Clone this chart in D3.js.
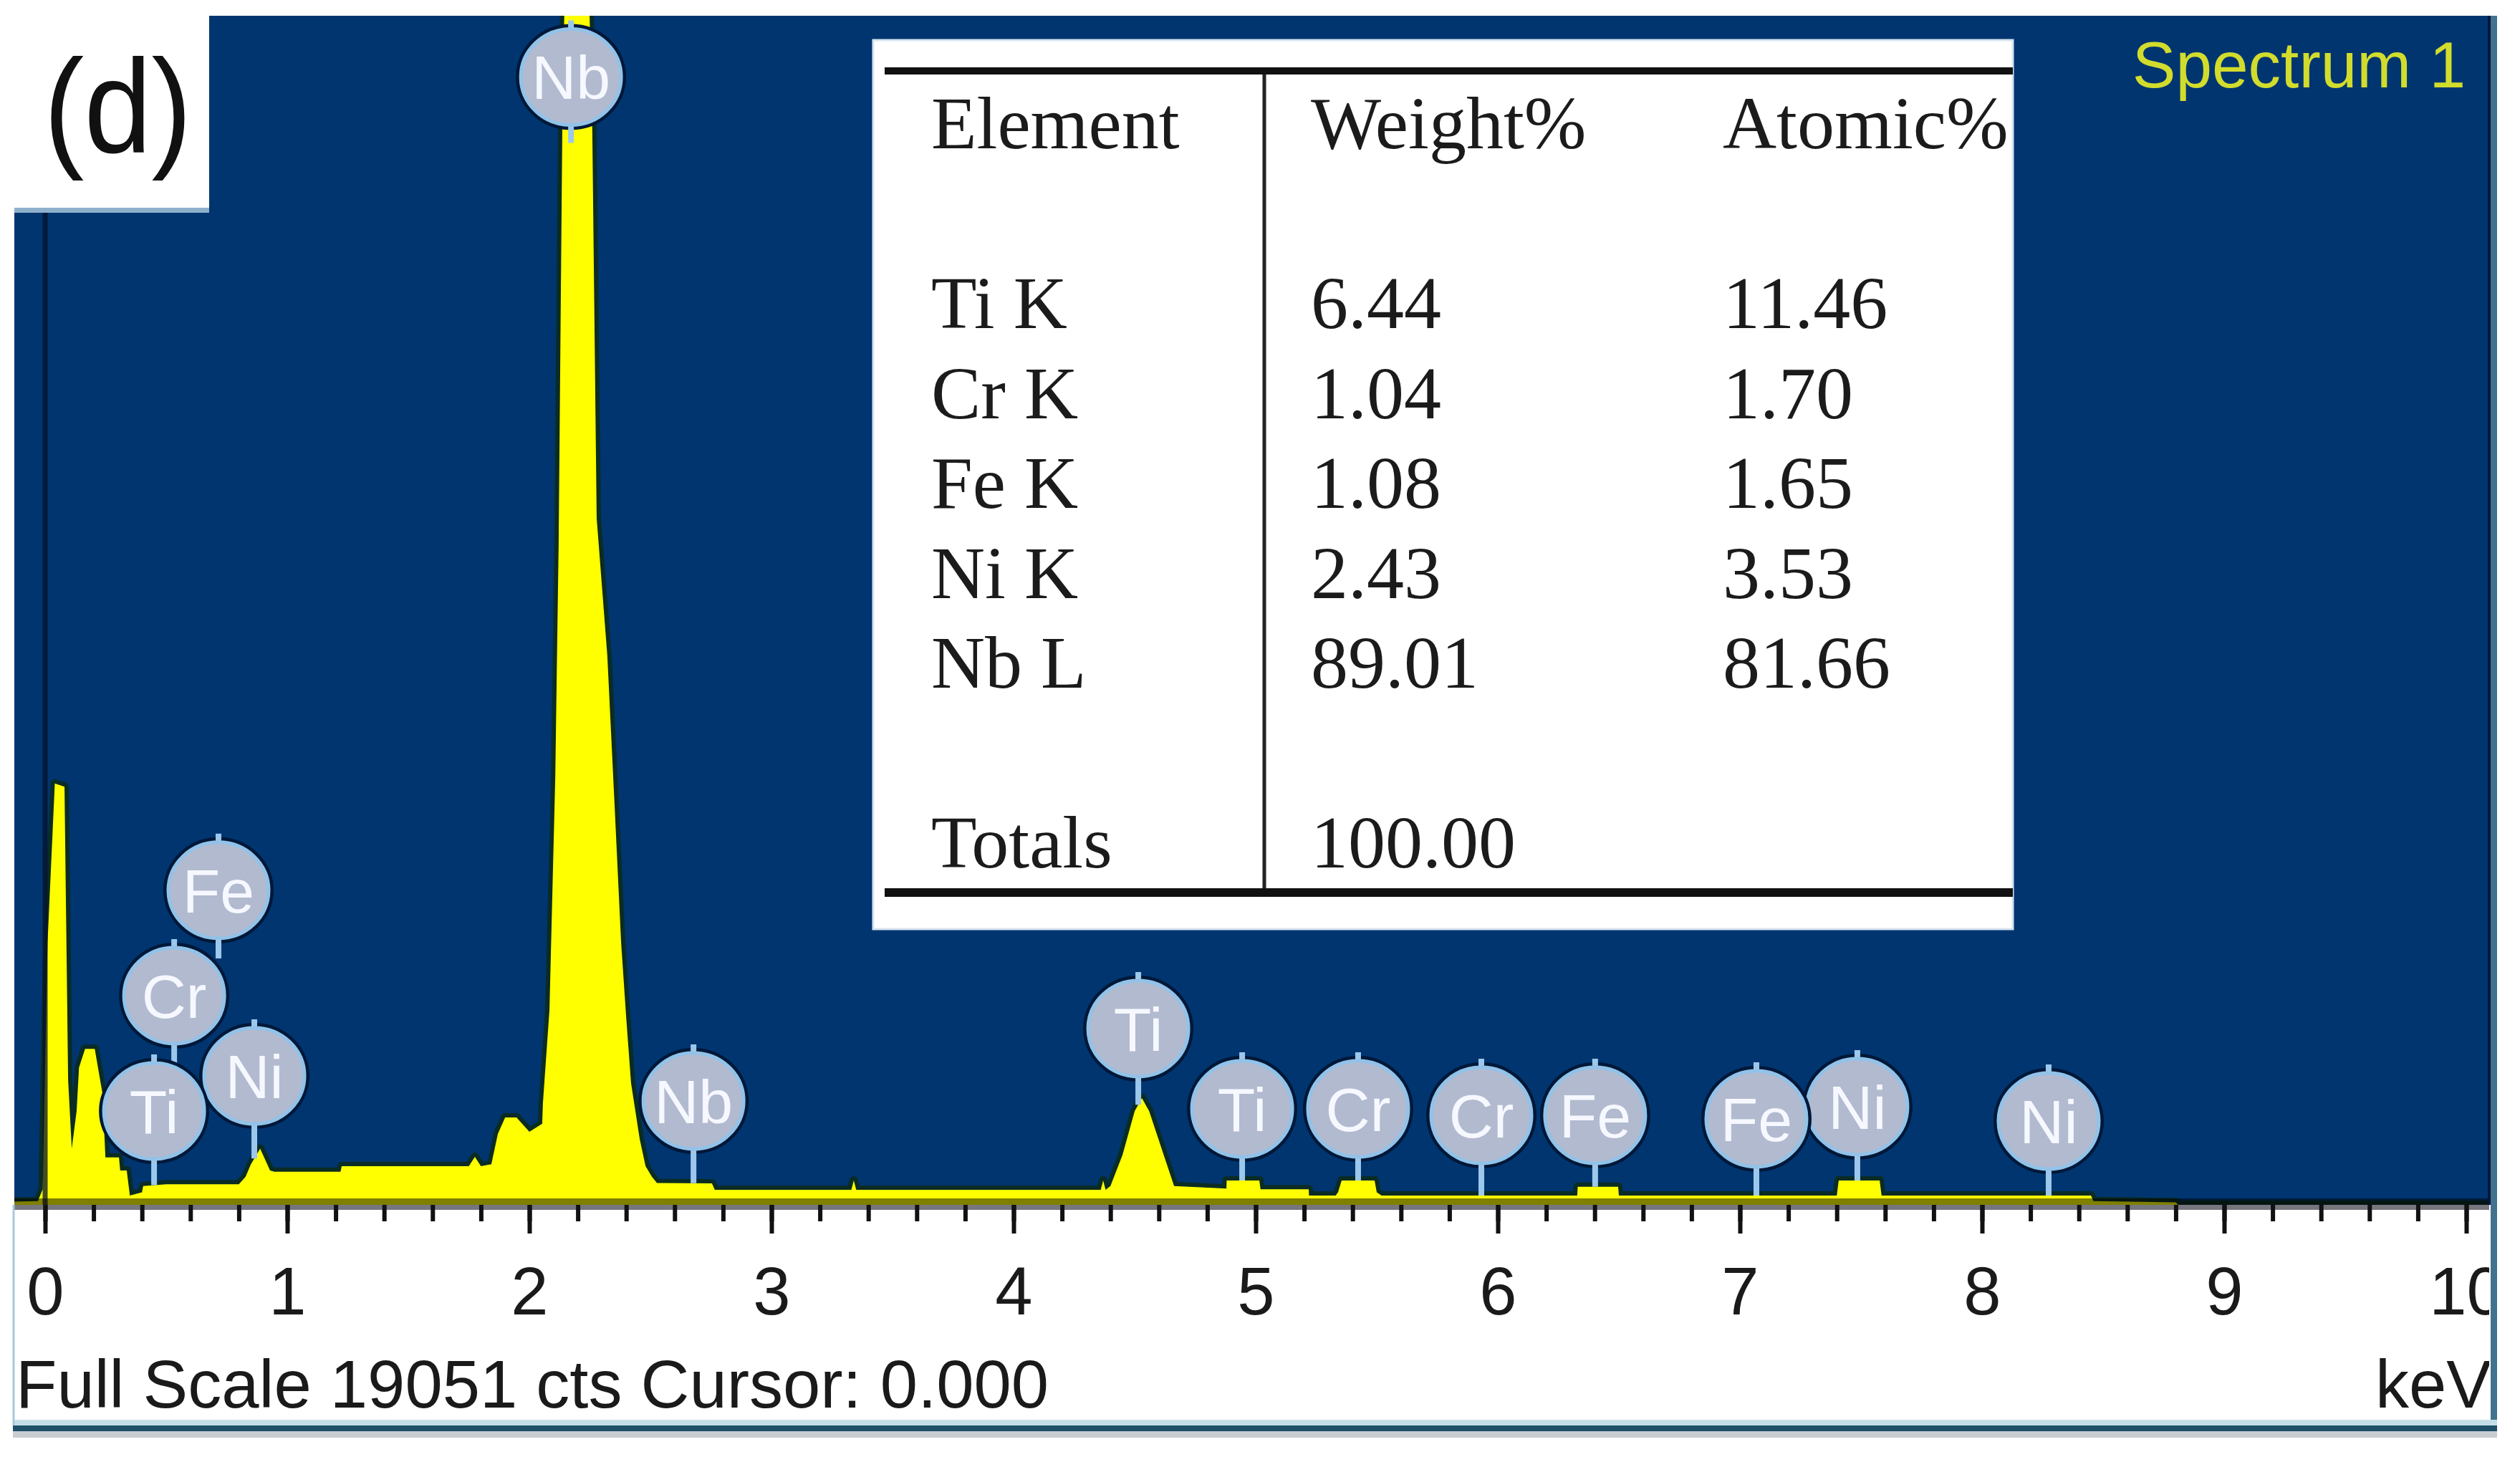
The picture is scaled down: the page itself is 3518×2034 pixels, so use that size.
<!DOCTYPE html>
<html>
<head>
<meta charset="utf-8">
<script src="https://cdn.jsdelivr.net/npm/d3@7"></script>
<style>
  html, body { margin: 0; padding: 0; background: #fff; }
  svg { display: block; }
</style>
</head>
<body>
<div id="chart"></div>
<script>
// spectrum (keV / counts)
const energy = [-0.13, -0.03, -0.01, 0.01, 0.04, 0.08, 0.095, 0.11, 0.13,
  0.14, 0.165, 0.205, 0.237, 0.249, 0.305, 0.31, 0.337, 0.35, 0.40,
  0.405, 0.50, 0.80, 0.828, 0.85, 0.888, 0.929, 0.947, 1.22, 1.225,
  1.75, 1.775, 1.80, 1.843, 1.87, 1.90, 1.947, 2.0, 2.053, 2.056,
  2.083, 2.107, 2.121, 2.136, 2.166, 2.225, 2.26, 2.278, 2.322, 2.352,
  2.379, 2.40, 2.42, 2.456, 2.48, 2.506, 2.527, 2.754, 2.766, 3.33,
  3.34, 3.35, 4.36, 4.37, 4.38, 4.40, 4.45, 4.50, 4.53, 4.56,
  4.62, 4.663, 4.879, 4.88, 5.015, 5.02, 5.219, 5.22, 5.33, 5.34,
  5.355, 5.491, 5.50, 5.52, 6.328, 6.33, 6.497, 6.50, 7.40, 7.408,
  7.577, 7.585, 8.45, 8.46, 8.80, 8.81, 10.2];
const counts = [50, 60, 250, 4200, 6750, 6700, 2000, 900, 1500,
  2200, 2500, 2500, 1780, 760, 760, 550, 550, 150, 200,
  300, 330, 330, 450, 650, 900, 550, 530, 530, 620,
  620, 770, 620, 650, 1140, 1400, 1400, 1170, 1300, 1630,
  3120, 6850, 10600, 17200, 24000, 23000, 17200, 11000, 8800, 6400,
  4200, 3000, 1950, 1050, 620, 450, 350, 344, 240, 240,
  390, 240, 240, 390, 240, 300, 800, 1500, 1710, 1500,
  800, 300, 260, 390, 390, 250, 250, 150, 150, 200,
  390, 390, 200, 150, 150, 290, 290, 150, 150, 390,
  390, 150, 150, 60, 40, 0, 0];

const fullScale = 19051;
const cursorValue = 0;
const tickValues = [0, 1, 2, 3, 4, 5, 6, 7, 8, 9, 10];

// peak markers
const markerNames = ["Ti", "Cr", "Fe", "Ni", "Nb", "Nb", "Ti", "Ti", "Cr", "Cr", "Fe", "Fe", "Ni", "Ni"];
const markerEnergy = [0.45, 0.533, 0.716, 0.864, 2.172, 2.678, 4.515, 4.944, 5.423, 5.932, 6.402, 7.068, 7.485, 8.275];
const markerLevel = [1504, 3352, 5040, 2066, 18070, 1665, 2824, 1538, 1538, 1435, 1435, 1378, 1573, 1343];

// quantification table
const tableHeader = ["Element", "Weight%", "Atomic%"];
const elements = ["Ti K", "Cr K", "Fe K", "Ni K", "Nb L"];
const weightPct = ["6.44", "1.04", "1.08", "2.43", "89.01"];
const atomicPct = ["11.46", "1.70", "1.65", "3.53", "81.66"];
const totalWeight = "100.00";

const W = 3518, H = 2034;
const plot = { left: 20, right: 3475, top: 22, bottom: 1682 };
const blue = "#003570";
const sans = "'Liberation Sans', Arial, sans-serif";
const serif = "'Liberation Serif', 'Times New Roman', serif";

const svg = d3.select("#chart").append("svg")
  .attr("width", W).attr("height", H)
  .attr("viewBox", [0, 0, W, H]);

svg.append("rect").attr("width", W).attr("height", H).attr("fill", "#fff");

const x = d3.scaleLinear().domain([0, 10]).range([63, 3443]);
const y = d3.scaleLinear().domain([0, fullScale]).range([plot.bottom, plot.top]);
const spec = d3.scaleLinear().domain(energy).range(counts); // interpolate spectrum

const data = energy.map((e, i) => ({ e: e, c: counts[i] }));

const defs = svg.append("defs");
defs.append("clipPath").attr("id", "plotClip").append("rect")
  .attr("x", plot.left).attr("y", plot.top)
  .attr("width", plot.right - plot.left).attr("height", plot.bottom - plot.top);
defs.append("clipPath").attr("id", "panelClip").append("rect")
  .attr("x", plot.left).attr("y", plot.top)
  .attr("width", plot.right - plot.left).attr("height", 1982 - plot.top);

// blue plot area
svg.append("rect")
  .attr("x", plot.left).attr("y", plot.top)
  .attr("width", plot.right - plot.left).attr("height", plot.bottom - plot.top)
  .attr("fill", blue);

const g = svg.append("g").attr("clip-path", "url(#plotClip)");

const line = d3.line().x(d => x(d.e)).y(d => y(d.c));
const area = d3.area().x(d => x(d.e)).y0(y(0)).y1(d => y(d.c));

g.append("path").datum(data)
  .attr("d", line)
  .attr("fill", "none")
  .attr("stroke", "#0a2c24")
  .attr("stroke-width", 12)
  .attr("stroke-linejoin", "round");

g.append("path").datum(data)
  .attr("d", area)
  .attr("fill", "#ffff00");

// cursor
g.append("line")
  .attr("x1", x(cursorValue)).attr("x2", x(cursorValue))
  .attr("y1", plot.top).attr("y2", plot.bottom)
  .attr("stroke", "#06122a").attr("stroke-width", 7).attr("opacity", 0.75);

// dark baseline
g.append("rect")
  .attr("x", plot.left).attr("y", plot.bottom - 9)
  .attr("width", plot.right - plot.left).attr("height", 9)
  .attr("fill", "#000").attr("opacity", 0.5);

// axis strip
svg.append("rect")
  .attr("x", plot.left).attr("y", plot.bottom)
  .attr("width", plot.right - plot.left).attr("height", 7)
  .attr("fill", "#76767e");

const axisG = svg.append("g").attr("clip-path", "url(#panelClip)");

axisG.append("g")
  .attr("transform", `translate(0, ${plot.bottom})`)
  .call(d3.axisBottom(x).ticks(50).tickSize(23).tickFormat(""))
  .call(a => a.select(".domain").remove())
  .call(a => a.selectAll("line").attr("stroke", "#111").attr("stroke-width", 6));

axisG.append("g")
  .attr("transform", `translate(0, ${plot.bottom})`)
  .call(d3.axisBottom(x).tickValues(tickValues).tickSize(40).tickPadding(46).tickFormat(d3.format("d")))
  .call(a => a.select(".domain").remove())
  .call(a => a.selectAll("line").attr("stroke", "#111").attr("stroke-width", 6))
  .call(a => a.selectAll("text")
    .attr("font-family", sans).attr("font-size", 94).attr("fill", "#1a1a1a"));

axisG.append("text")
  .attr("x", 22).attr("y", 1965)
  .attr("font-family", sans).attr("font-size", 94).attr("fill", "#1a1a1a")
  .text(`Full Scale ${fullScale} cts Cursor: ${d3.format(".3f")(cursorValue)}`);

axisG.append("text")
  .attr("x", 3316).attr("y", 1965)
  .attr("font-family", sans).attr("font-size", 94).attr("fill", "#1a1a1a")
  .text("keV");

// peak markers
const rx = 70, ry = 67;
const markers = markerNames.map((n, i) => ({
  name: n, cx: x(markerEnergy[i]), cy: y(markerLevel[i]), e: markerEnergy[i]
}));
markers.forEach(m => {
  const lower = markers.filter(o => o !== m && o.cy > m.cy && Math.abs(o.cx - m.cx) < rx);
  if (lower.length) {
    m.stemEnd = d3.min(lower, o => o.cy - ry) + 15;
  } else {
    m.stemEnd = Math.max(y(spec(m.e)), m.cy + ry + 25);
  }
});
markers.sort((a, b) => a.cy - b.cy);

const mg = svg.append("g").attr("clip-path", "url(#plotClip)");
markers.forEach(m => {
  const gm = mg.append("g");
  gm.append("ellipse")
    .attr("cx", m.cx).attr("cy", m.cy).attr("rx", rx + 4).attr("ry", ry + 4)
    .attr("fill", "none").attr("stroke", "#001838").attr("stroke-width", 6);
  gm.append("line")
    .attr("x1", m.cx).attr("x2", m.cx)
    .attr("y1", m.cy - ry - 12).attr("y2", m.stemEnd)
    .attr("stroke", "#9cc8ec").attr("stroke-width", 8);
  gm.append("ellipse")
    .attr("cx", m.cx).attr("cy", m.cy).attr("rx", rx).attr("ry", ry)
    .attr("fill", "#b2bacf").attr("stroke", "#92c2e8").attr("stroke-width", 5);
  gm.append("text")
    .attr("x", m.cx).attr("y", m.cy + 31)
    .attr("text-anchor", "middle")
    .attr("font-family", sans).attr("font-size", 86)
    .attr("fill", "#f6f8ff")
    .text(m.name);
});

// table
const tb = svg.append("g");
tb.append("rect")
  .attr("x", 1219).attr("y", 56).attr("width", 1591).attr("height", 1241)
  .attr("fill", "#fff").attr("stroke", "#d7e4ef").attr("stroke-width", 3);
tb.append("line").attr("x1", 1235).attr("x2", 2810).attr("y1", 99).attr("y2", 99)
  .attr("stroke", "#111").attr("stroke-width", 10);
tb.append("line").attr("x1", 1235).attr("x2", 2810).attr("y1", 1246).attr("y2", 1246)
  .attr("stroke", "#111").attr("stroke-width", 12);
tb.append("line").attr("x1", 1765).attr("x2", 1765).attr("y1", 104).attr("y2", 1240)
  .attr("stroke", "#222").attr("stroke-width", 5);

const colX = [1300, 1830, 2405];
const rowY = i => 207 + i * 125.5;
const rows = [{ r: 0, cells: tableHeader }]
  .concat(elements.map((el, i) => ({ r: i + 2, cells: [el, weightPct[i], atomicPct[i]] })))
  .concat([{ r: 8, cells: ["Totals", totalWeight] }]);
rows.forEach(row => {
  row.cells.forEach((c, j) => {
    tb.append("text")
      .attr("x", colX[j]).attr("y", rowY(row.r))
      .attr("font-family", serif).attr("font-size", 104).attr("fill", "#1b1b1b")
      .text(c);
  });
});

// panel label
svg.append("rect").attr("x", plot.left).attr("y", plot.top)
  .attr("width", 272).attr("height", 268).attr("fill", "#fff");
svg.append("line").attr("x1", plot.left).attr("x2", 292).attr("y1", 293.5).attr("y2", 293.5)
  .attr("stroke", "#8fb0cc").attr("stroke-width", 7);
svg.append("text")
  .attr("x", 61).attr("y", 213)
  .attr("font-family", sans).attr("font-size", 185)
  .attr("textLength", 207).attr("lengthAdjust", "spacingAndGlyphs")
  .attr("fill", "#111")
  .text("(d)");

// spectrum title
svg.append("text")
  .attr("x", 3442).attr("y", 122)
  .attr("text-anchor", "end")
  .attr("font-family", sans).attr("font-size", 91)
  .attr("fill", "#d2dc2c")
  .text("Spectrum 1");

// frame
svg.append("rect").attr("x", 3473).attr("y", plot.top).attr("width", 4).attr("height", plot.bottom - plot.top).attr("fill", "#00163e");
svg.append("rect").attr("x", 3477).attr("y", plot.top).attr("width", 9).attr("height", 1985).attr("fill", "#41738f");
svg.append("rect").attr("x", 18).attr("y", 1982).attr("width", 3468).attr("height", 8).attr("fill", "#c4dee8");
svg.append("rect").attr("x", 18).attr("y", 1990).attr("width", 3468).attr("height", 8).attr("fill", "#1f4f69");
svg.append("rect").attr("x", 18).attr("y", 1998).attr("width", 3468).attr("height", 9).attr("fill", "#c9cdd2");
svg.append("line").attr("x1", 19).attr("x2", 19).attr("y1", plot.bottom).attr("y2", 1990)
  .attr("stroke", "#a8c8dc").attr("stroke-width", 3);
</script>
</body>
</html>
